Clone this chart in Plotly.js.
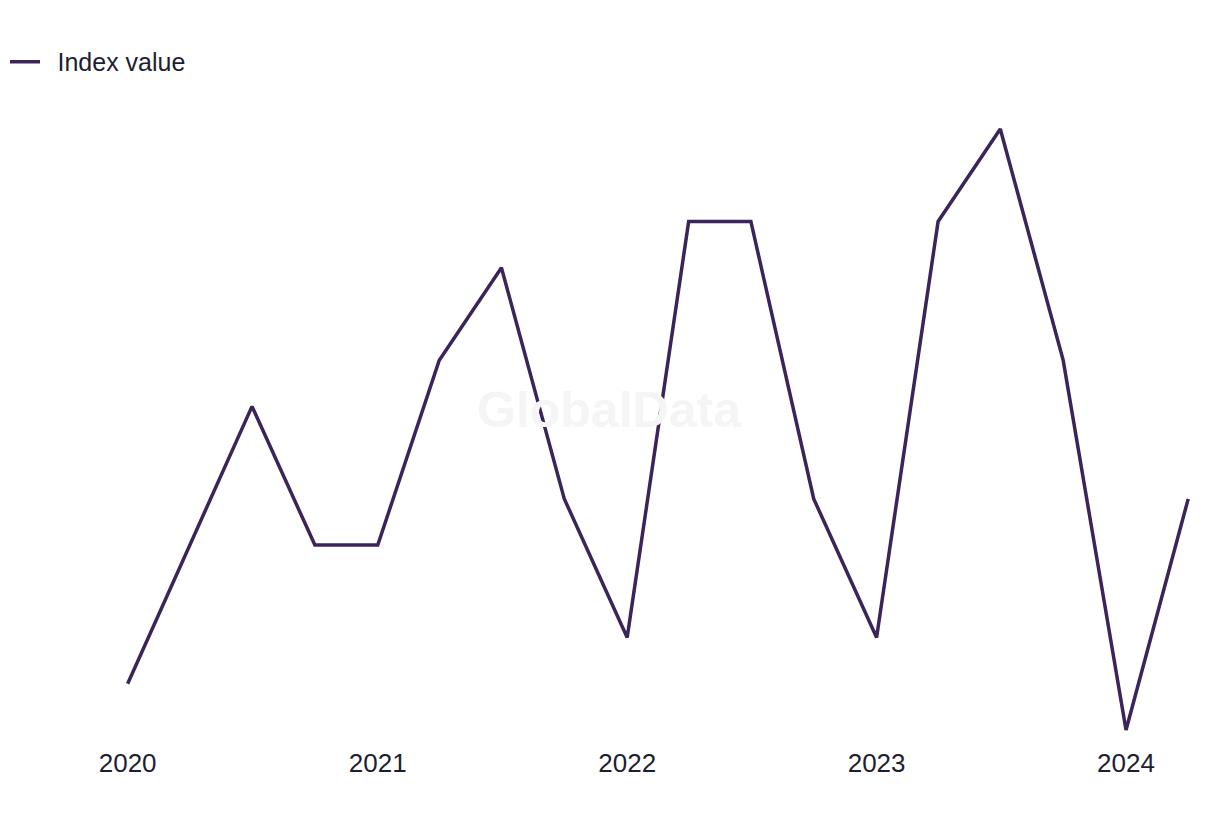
<!DOCTYPE html>
<html>
<head>
<meta charset="utf-8">
<script src="https://cdn.plot.ly/plotly-3.0.1.min.js"></script>
<style>
  html, body { margin: 0; padding: 0; background: #ffffff; }
  #chart { width: 1220px; height: 820px; }
</style>
</head>
<body>
<div id="chart"></div>
<script>
const quarters = ['2020-01-01','2020-04-01','2020-07-01','2020-10-01',
                  '2021-01-01','2021-04-01','2021-07-01','2021-10-01',
                  '2022-01-01','2022-04-01','2022-07-01','2022-10-01',
                  '2023-01-01','2023-04-01','2023-07-01','2023-10-01',
                  '2024-01-01','2024-04-01'];
const indexValues = [1, 4, 7, 4, 4, 8, 10, 5, 2, 11, 11, 5, 2, 11, 13, 8, 0, 5];
const seriesName = 'Index value';
const tickDates = ['2020-01-01','2021-01-01','2022-01-01','2023-01-01','2024-01-01'];
const tickLabels = ['2020','2021','2022','2023','2024'];

const textColor = '#1e1e32';
const lineColor = '#3a2459';
const fontFamily = '"Liberation Sans", Arial, sans-serif';

const trace = {
  x: quarters,
  y: indexValues,
  type: 'scatter',
  mode: 'lines',
  name: '\u2002' + seriesName,
  line: { color: lineColor, width: 3.5 },
  showlegend: true
};

const layout = {
  width: 1220,
  height: 820,
  margin: { l: 80, r: 20, t: 110, b: 80, autoexpand: false },
  paper_bgcolor: '#ffffff',
  plot_bgcolor: '#ffffff',
  font: { family: fontFamily, size: 24, color: textColor },
  showlegend: true,
  legend: {
    xref: 'container', yref: 'container',
    x: 0.0041, xanchor: 'left',
    y: 0.9244, yanchor: 'middle',
    orientation: 'h',
    bgcolor: 'rgba(0,0,0,0)',
    font: { family: fontFamily, size: 25, color: textColor },
    itemwidth: 30
  },
  xaxis: {
    type: 'date',
    range: ['2019-10-23 06:30', '2024-04-18 06:00'],
    tickvals: tickDates,
    ticktext: tickLabels,
    showgrid: false,
    zeroline: false,
    showline: false,
    ticks: '',
    ticklabelstandoff: 5,
    tickfont: { family: fontFamily, size: 26, color: textColor }
  },
  yaxis: {
    range: [-0.216, 13.411],
    showgrid: false,
    zeroline: false,
    showline: false,
    showticklabels: false,
    ticks: ''
  },
  annotations: [{
    text: 'GlobalData',
    xref: 'paper', yref: 'paper',
    x: 0.4732, y: 0.5238,
    xanchor: 'center', yanchor: 'middle',
    showarrow: false,
    font: { family: fontFamily, size: 50, color: '#f5f5f5', weight: 'bold' }
  }]
};

Plotly.newPlot('chart', [trace], layout, { displayModeBar: false, staticPlot: true });
</script>
</body>
</html>
